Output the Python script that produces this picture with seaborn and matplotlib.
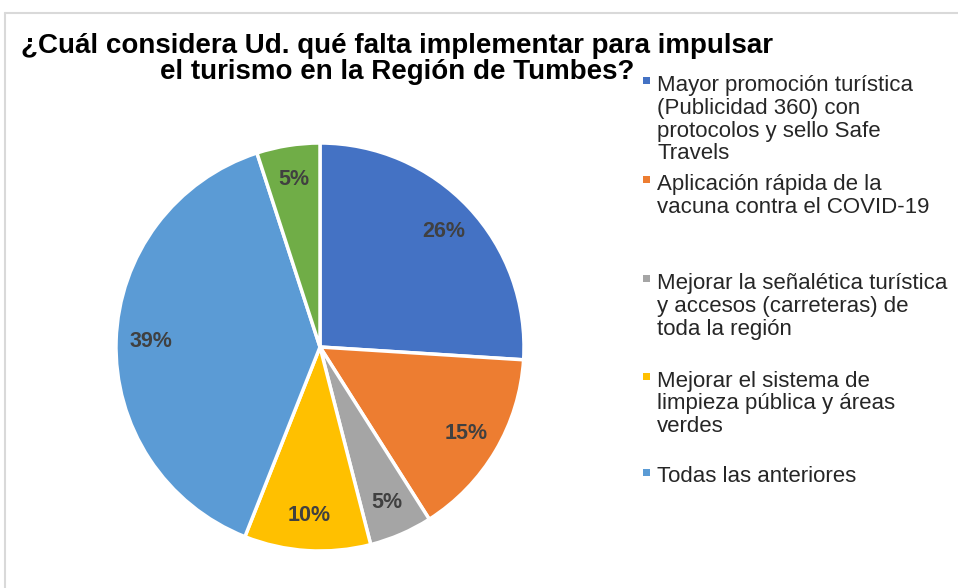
import matplotlib
matplotlib.use("Agg")
import matplotlib.pyplot as plt
import seaborn as sns
from matplotlib.patches import Rectangle
from matplotlib.lines import Line2D

# Data
title_lines = ["¿Cuál considera Ud. qué falta implementar para impulsar",
               "el turismo en la Región de Tumbes?"]
categories = [
    "Mayor promoción turística\n(Publicidad 360) con\nprotocolos y sello Safe\nTravels",
    "Aplicación rápida de la\nvacuna contra el COVID-19",
    "Mejorar la señalética turística\ny accesos (carreteras) de\ntoda la región",
    "Mejorar el sistema de\nlimpieza pública y áreas\nverdes",
    "Todas las anteriores",
    "Otros",
]
values = [26, 15, 5, 10, 39, 5]
colors = ["#4472C4", "#ED7D31", "#A5A5A5", "#FFC000", "#5B9BD5", "#70AD47"]
legend_shown = 5

sns.set_theme(style="white")
plt.rcParams["font.family"] = ["Liberation Sans", "DejaVu Sans"]

W, H = 958, 588
fig = plt.figure(figsize=(W / 100, H / 100), dpi=100)
fig.patch.set_facecolor("white")

# pie axes: center (320, 347) px, radius 204 px
cx, cy, r = 320, 347, 204
ax = fig.add_axes([(cx - r) / W, (H - cy - r) / H, 2 * r / W, 2 * r / H])
wedges, texts, autotexts = ax.pie(
    values, colors=colors, startangle=90, counterclock=False,
    autopct="%1.0f%%", pctdistance=0.83,
    wedgeprops=dict(edgecolor="white", linewidth=2.5),
    textprops=dict(color="#404040", fontsize=15.5, fontweight="bold"),
)
ax.set_xlim(-1, 1)
ax.set_ylim(-1, 1)
ax.set_aspect("equal")

# title, two centred lines
for txt, base in zip(title_lines, [53, 79]):
    fig.text(397 / W, 1 - base / H, txt, ha="center", va="baseline",
             fontsize=20, fontweight="bold", color="black")

# legend, entries evenly spaced
first_base = [91, 190, 289, 386.5, 482.5]
for i in range(legend_shown):
    for j, line in enumerate(categories[i].split("\n")):
        fig.text(657 / W, 1 - (first_base[i] + j * 22.8) / H, line,
                 ha="left", va="baseline", fontsize=16, color="#262626")
    fig.patches.append(Rectangle((643 / W, 1 - (first_base[i] - 7) / H), 7 / W, 7 / H,
                                 transform=fig.transFigure, facecolor=colors[i],
                                 edgecolor="none"))

# thin gray frame of the chart area
fig.add_artist(Line2D([5 / W, 1], [1 - 13 / H, 1 - 13 / H], transform=fig.transFigure,
                      color="#D9D9D9", linewidth=1.5))
fig.add_artist(Line2D([5 / W, 5 / W], [0, 1 - 13 / H], transform=fig.transFigure,
                      color="#D9D9D9", linewidth=1.5))

fig.savefig("out.png", dpi=100)
